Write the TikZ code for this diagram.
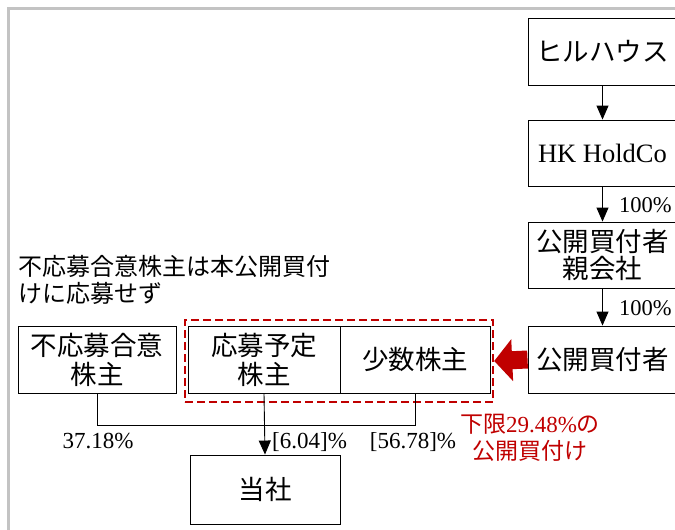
\documentclass[tikz,border=0pt]{standalone}
\usepackage{fontspec}
\setmainfont{Liberation Serif}
\newfontfamily\jp{Noto Sans CJK JP}
\usetikzlibrary{arrows.meta}
\definecolor{darkred}{RGB}{192,0,0}
\definecolor{framegray}{RGB}{195,195,195}
\begin{document}
\begin{tikzpicture}[x=1pt,y=-1pt,
  box/.style={draw, line width=0.9pt, inner sep=0pt, align=center,
    font=\fontsize{26.5pt}{32pt}\selectfont\jp},
  conn/.style={line width=0.9pt},
  arr/.style={conn, -{Triangle[length=14pt, width=12pt]}},
  pct/.style={font=\fontsize{23pt}{24pt}\selectfont, inner sep=0pt}
]
\useasboundingbox (0,0) rectangle (675,530);
\clip (0,0) rectangle (675,530);
\fill[white] (0,0) rectangle (675,530);
\draw[framegray, line width=2.2pt] (8.5,535) -- (8.5,8.5) -- (680,8.5);

% right column
\node[box, minimum width=149pt, minimum height=67pt] (hill) at (602.5,51.5) {ヒルハウス};
\node[box, minimum width=149pt, minimum height=66pt, font=\fontsize{26.5pt}{32pt}\selectfont] (hk) at (602.5,153) {HK HoldCo};
\node[box, minimum width=149pt, minimum height=66pt, font=\fontsize{26.5pt}{30pt}\selectfont\jp] (parent) at (602.5,255) {公開買付者\\[-3pt]親会社};
\node[box, minimum width=149pt, minimum height=67pt] (buyer) at (602.5,359.5) {公開買付者};

\draw[arr] (hill) -- (hk);
\draw[arr] (hk) -- (parent);
\draw[arr] (parent) -- (buyer);
\node[pct, anchor=west, font=\fontsize{22.5pt}{24pt}\selectfont] (p1) at (619,205) {100\%};
\node[pct, anchor=west, font=\fontsize{22.5pt}{24pt}\selectfont] (p2) at (619,308) {100\%};

% left note
\node[anchor=north west, inner sep=0pt, align=left,
  font=\fontsize{24pt}{27pt}\selectfont\jp] (note) at (18,255) {不応募合意株主は本公開買付\\けに応募せず};

% shareholders
\node[box, minimum width=158pt, minimum height=67pt] (non) at (97,359.5) {不応募合意\\[-3pt]株主};
\node[box, minimum width=152pt, minimum height=67pt] (apply) at (264,359.5) {応募予定\\[-3pt]株主};
\node[box, minimum width=150pt, minimum height=67pt] (minor) at (415,359.5) {少数株主};

\node[draw=darkred, dashed, dash pattern=on 8pt off 4pt, line width=2.4pt,
  minimum width=308pt, minimum height=82pt, inner sep=0pt] (grp) at (339,361) {};

\draw[darkred, line width=18pt, -{Triangle[length=18pt 0 0, width=41pt 0 0]}]
  (buyer.west) -- (grp.east);

% company
\node[box, minimum width=150pt, minimum height=69pt] (tosha) at (265,489.5) {当社};

\draw[conn] (non.south) -- ++(0,32) coordinate (j) -| (minor.south);
\draw[arr] (apply.south) -- (tosha.north);

\node[pct] (l1) at (98,441) {37.18\%};
\node[pct, anchor=west] (l2) at (272,442) {[6.04]\%};
\node[pct] (l3) at (413,442) {[56.78]\%};

\node[align=center, text=darkred, inner sep=0pt,
  font=\fontsize{23pt}{27pt}\selectfont] (lim) at (530,438)
  {{\jp 下限}29.48\%{\jp の}\\{\jp 公開買付け}};
\end{tikzpicture}
\end{document}
